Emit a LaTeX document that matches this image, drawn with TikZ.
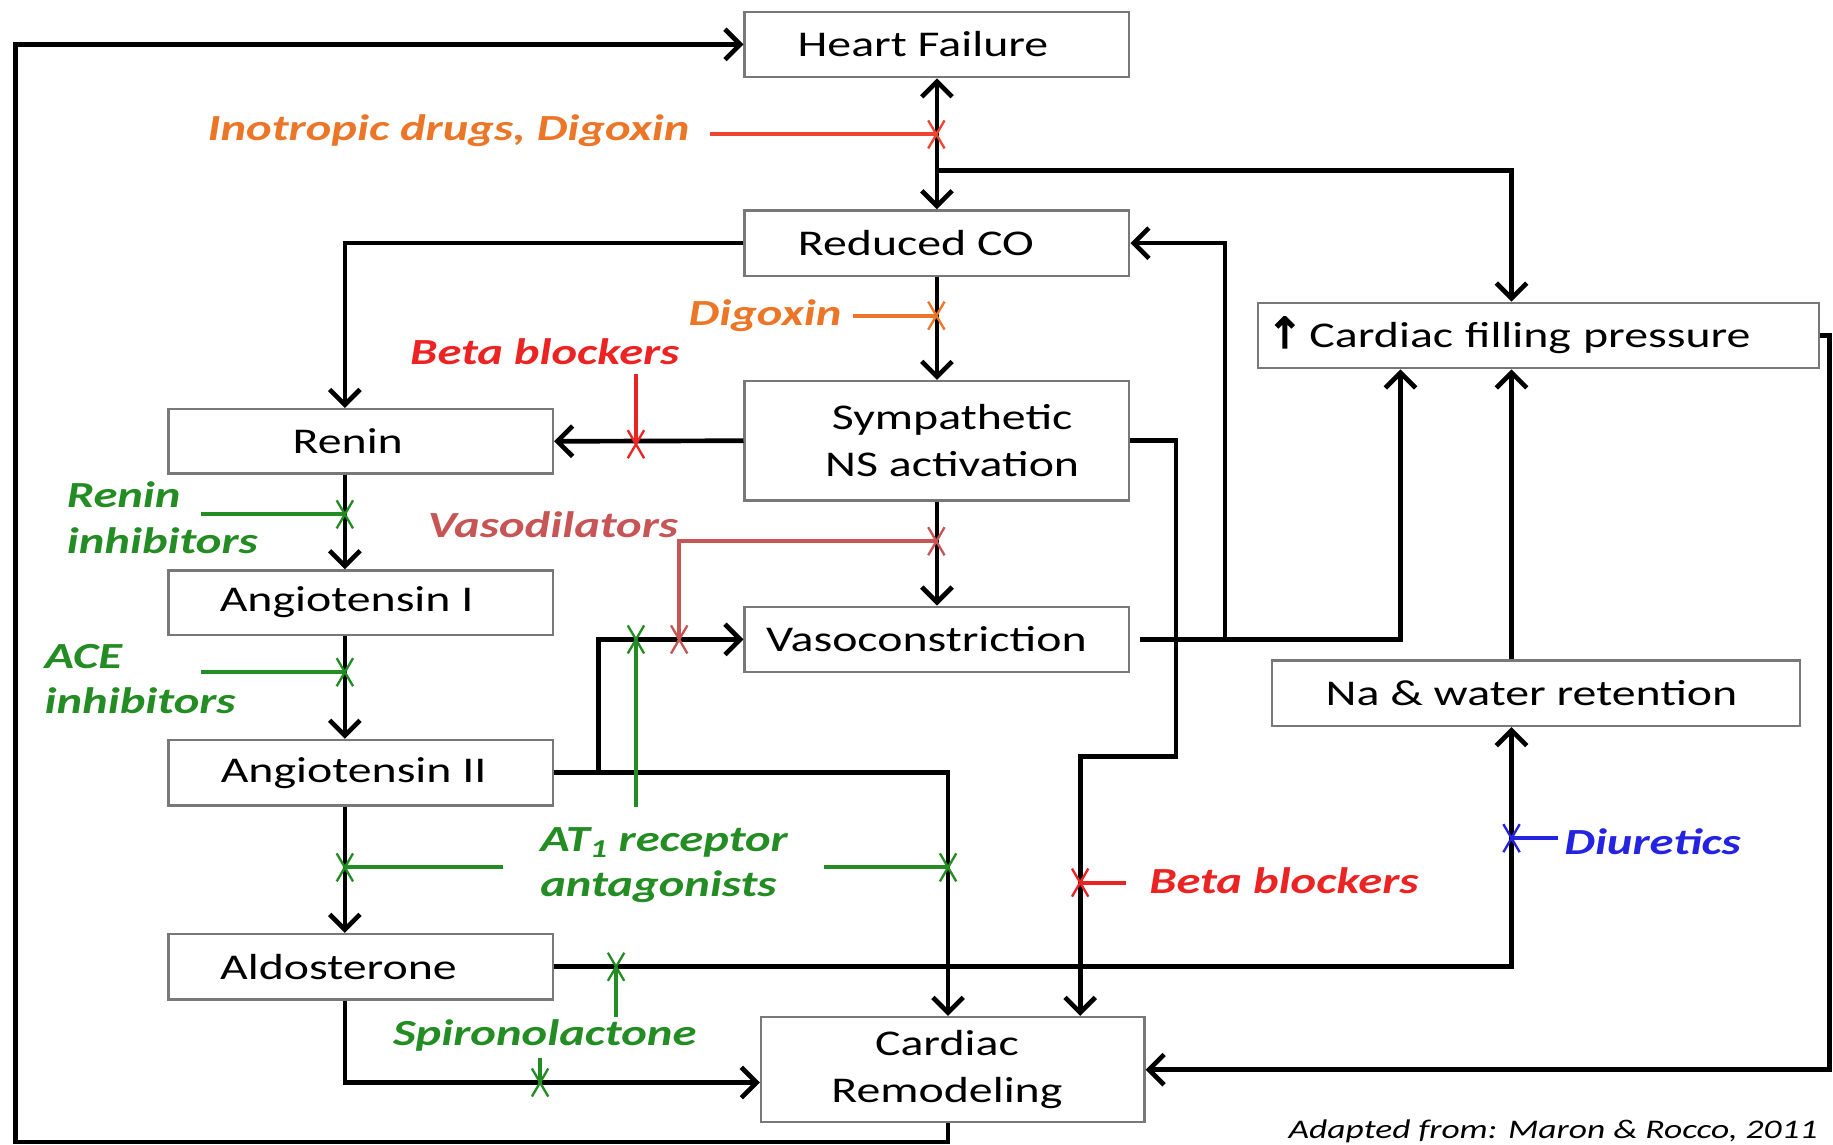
\documentclass[tikz,border=0pt]{standalone}
\usepackage{fontspec}
\setmainfont[FakeStretch=1.32]{Carlito}
\newfontfamily\arrowfont[FakeBold=4]{DejaVu Sans}
\usetikzlibrary{arrows.meta,calc}
\definecolor{cOrange}{RGB}{236,118,40}
\definecolor{cOrRed}{RGB}{236,70,50}
\definecolor{cRed}{RGB}{235,35,35}
\definecolor{cRose}{RGB}{200,85,85}
\definecolor{cGreen}{RGB}{35,140,35}
\definecolor{cBlue}{RGB}{35,35,225}
\definecolor{cBorder}{RGB}{120,120,120}
\newcommand{\tl}[2]{#2\hspace*{#1}}
\tikzset{
  box/.style={draw=cBorder, line width=2pt, fill=white, inner sep=0pt,
    font=\fontsize{31}{40}\selectfont, align=center},
  arr/.style={line width=4pt, ->},
  dbl/.style={line width=4pt, <->},
  inh/.style={line width=3.5pt},
  lab/.style={font=\fontsize{31.5}{39}\selectfont\bfseries\itshape, inner sep=0pt},
  xm/.pic={\draw[line width=2pt] (-7,-12) -- (7,12) (-7,12) -- (7,-12);}
}
\begin{document}
\begin{tikzpicture}[x=1pt,y=-1pt,>={Straight Barb[length=13pt,width=26pt]}]
\useasboundingbox (0,0) rectangle (1568,979);
% boxes
\node[box, minimum width=329pt, minimum height=56pt] (hf) at (801.5,38) {\tl{24pt}{Heart Failure}};
\node[box, minimum width=329pt, minimum height=56pt] (rco) at (801.5,208) {\tl{36pt}{Reduced CO}};
\node[box, anchor=west, text width=464pt, inner xsep=8pt, minimum height=56pt, align=left] (cfp) at (1075,287) {{\arrowfont\fontsize{36}{36}\selectfont ↑}\hspace{6pt}Cardiac filling pressure};
\node[box, minimum width=329pt, minimum height=55pt] (renin) at (308.5,377.5) {\tl{22pt}{Renin}};
\node[box, minimum width=329pt, minimum height=102pt] (sym) at (801.5,377) {\hspace*{26pt}Sympathetic\\\hspace*{26pt}NS activation};
\node[box, minimum width=329pt, minimum height=55pt] (ang1) at (308.5,515.5) {\tl{24pt}{Angiotensin I}};
\node[box, minimum width=329pt, minimum height=56pt] (vaso) at (801.5,547) {\tl{18pt}{Vasoconstriction}};
\node[box, minimum width=452pt, minimum height=56pt] (na) at (1314,593) {\tl{8pt}{Na \& water retention}};
\node[box, minimum width=329pt, minimum height=56pt] (ang2) at (308.5,661) {\tl{12pt}{Angiotensin II}};
\node[box, minimum width=329pt, minimum height=56pt] (aldo) at (308.5,827) {\tl{38pt}{Aldosterone}};
\node[box, minimum width=328pt, minimum height=90pt] (crem) at (815,915) {\tl{10pt}{Cardiac}\\\tl{10pt}{Remodeling}};
% helper coordinates
\coordinate (cL) at (295,0);
\coordinate (c811) at (811,0);
\coordinate (c924) at (924,0);
\coordinate (c1006) at (1006,647);
\coordinate (c1198) at (1198,0);
\coordinate (c1293) at (1293,0);
\coordinate (c1565) at (1565,0);
\coordinate (c512) at (512,0);
\coordinate (c926) at (0,926);
\coordinate (bl) at (13,977);
\coordinate (br1) at (801,146);
\coordinate (vasoOut) at (975,547);
\coordinate (vasoBr) at (1048,545);
% black connectors
\draw[arr] (crem.south -| c811) |- (bl) |- (hf.west);
\draw[dbl] (hf.south) -- (rco.north);
\draw[arr] (br1) -| (cfp.north -| c1293);
\draw[arr] (rco.west) -| (renin.north -| cL);
\draw[arr] (rco.south) -- (sym.north);
\draw[arr] (sym.west) -- (renin.east);
\draw[arr] (renin.south -| cL) -- (ang1.north -| cL);
\draw[arr] (ang1.south -| cL) -- (ang2.north -| cL);
\draw[arr] (ang2.south -| cL) -- (aldo.north -| cL);
\draw[arr] (sym.south) -- (vaso.north);
\draw[arr] (ang2.east) -| (c512 |- vaso.west) -- (vaso.west);
\draw[arr] (ang2.east) -| (crem.north -| c811);
\draw[arr] (aldo.east) -| (na.south -| c1293);
\draw[arr] (aldo.south -| cL) |- (crem.west |- c926);
\draw[arr] (sym.east) -| (c1006) -| (crem.north -| c924);
\draw[arr] (vasoOut) -| (cfp.south -| c1198);
\draw[arr] (vasoBr) |- (rco.east);
\draw[arr] (na.north -| c1293) -- (cfp.south -| c1293);
\draw[arr] (cfp.east) -| (crem.east -| c1565) -- (crem.east);
% labels
\node[lab, text=cOrange, anchor=east] (ino) at (590,112) {Inotropic drugs, Digoxin};
\node[lab, text=cOrange, anchor=east] (dig) at (720,270) {Digoxin};
\node[lab, text=cRed] (bb1) at (466,301) {Beta blockers};
\node[lab, text=cGreen, anchor=west, align=left] (rinh) at (57,443) {Renin\\inhibitors};
\node[lab, text=cGreen, anchor=west, align=left] (ace) at (38,581) {ACE\\inhibitors};
\node[lab, text=cRose] (vdil) at (473,449) {Vasodilators};
\node[lab, text=cGreen, anchor=west, align=left] (at1) at (462,740) {AT\textsubscript{1} receptor\\antagonists};
\node[lab, text=cGreen] (spiro) at (466,886) {Spironolactone};
\node[lab, text=cRed, anchor=west] (bb2) at (983,753) {Beta blockers};
\node[lab, text=cBlue, anchor=west] (diu) at (1338,720) {Diuretics};
\node[font=\fontsize{23}{28}\selectfont\itshape, anchor=south east, inner sep=0pt] (src) at (1555,978) {Adapted from: Maron \& Rocco, 2011};
% inhibition marks
\coordinate (xIno) at (801,115);
\coordinate (xDig) at (801,270);
\coordinate (xBb1) at (544,380);
\coordinate (xRen) at (295,440);
\coordinate (xAce) at (295,575);
\coordinate (xVd1) at (801,463);
\coordinate (xVd2) at (581,547);
\coordinate (xAtV) at (544,547);
\coordinate (xAtL) at (295,742);
\coordinate (xAtR) at (811,742);
\coordinate (xSp1) at (527,827);
\coordinate (xSp2) at (462,926);
\coordinate (xBb2) at (924,755);
\coordinate (xDiu) at (1293,717);
\draw[inh, cOrRed] (607,115) -- (xIno);
\draw[inh, cOrange] (730,270) -- (xDig);
\draw[inh, cRed] (544,320) -- (xBb1);
\draw[inh, cGreen] (172,440) -- (xRen);
\draw[inh, cGreen] (172,575) -- (xAce);
\draw[inh, cRose] (xVd1) -| (xVd2);
\draw[inh, cGreen] (544,690) -- (xAtV);
\draw[inh, cGreen] (430,742) -- (xAtL);
\draw[inh, cGreen] (705,742) -- (xAtR);
\draw[inh, cGreen] (527,870) -- (xSp1);
\draw[inh, cGreen] (462,905) -- (xSp2);
\draw[inh, cRed] (963,755) -- (xBb2);
\draw[inh, cBlue] (1333,717) -- (xDiu);
\pic[color=cOrRed] at (xIno) {xm};
\pic[color=cOrange] at (xDig) {xm};
\pic[color=cRed] at (xBb1) {xm};
\pic[color=cGreen] at (xRen) {xm};
\pic[color=cGreen] at (xAce) {xm};
\pic[color=cRose] at (xVd1) {xm};
\pic[color=cRose] at (xVd2) {xm};
\pic[color=cGreen] at (xAtV) {xm};
\pic[color=cGreen] at (xAtL) {xm};
\pic[color=cGreen] at (xAtR) {xm};
\pic[color=cGreen] at (xSp1) {xm};
\pic[color=cGreen] at (xSp2) {xm};
\pic[color=cRed] at (xBb2) {xm};
\pic[color=cBlue] at (xDiu) {xm};
\end{tikzpicture}
\end{document}
